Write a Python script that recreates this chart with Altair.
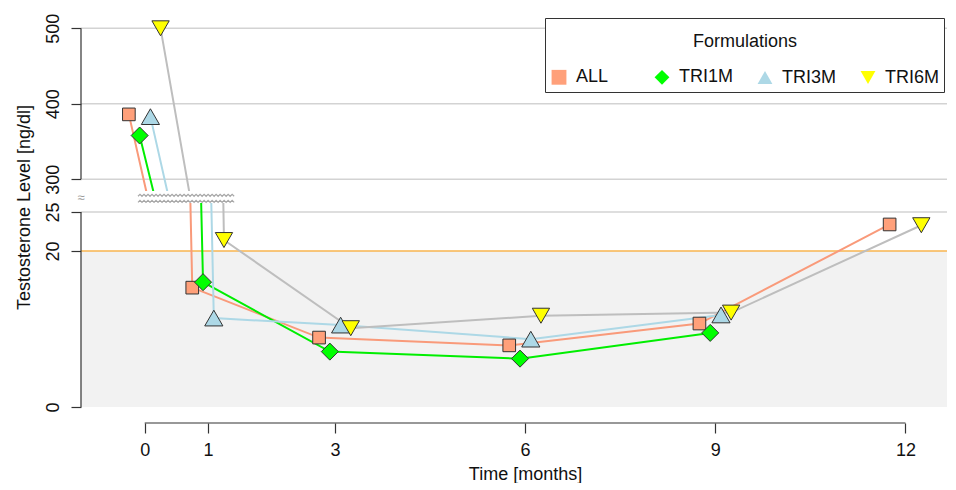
import altair as alt
import pandas as pd
import numpy as np

# ---- data ----
series = ["ALL", "TRI1M", "TRI3M", "TRI6M"]
months = [0, 1, 3, 6, 9, 12]
all_vals = [386, 15.3, 8.9, 7.9, 10.7, 23.4]
tri1m_vals = [358, 16.0, 7.1, 6.2, 9.5, None]
tri3m_vals = [383, 11.4, 10.5, 8.7, 11.8, None]
tri6m_vals = [500, 21.4, 10.1, 11.7, 12.1, 23.3]
dodge = [-0.25, -0.08, 0.09, 0.25]

x_ticks = [0, 1, 3, 6, 9, 12]
upper_ticks = [300, 400, 500]
lower_ticks = [0, 20, 25]
threshold = 20

# ---- styles ----
fill_colors = ["#FFA07A", "#00FF00", "#ADD8E6", "#FFFF00"]
line_colors = ["#F99A7A", "#00EE00", "#ADD8E6", "#BEBEBE"]
shapes = ["square", "diamond", "triangle-up", "triangle-down"]
sizes = [160, 290, 330, 300]
FONT = "Liberation Sans"

rows = []
for s, off, sz, vals in zip(series, dodge, sizes, [all_vals, tri1m_vals, tri3m_vals, tri6m_vals]):
    for m, v in zip(months, vals):
        if v is None:
            continue
        rows.append({"series": s, "line": s + " ", "t": m + off, "value": v, "sz": sz})
df = pd.DataFrame(rows)

X_DOM = [-1.005, 12.655]
UP_DOM = [284.5, 520.3]
LO_DOM = [-2.05, 26.15]
W = 866
H_UP = 178
H_LO = 220

xs = alt.Scale(domain=X_DOM, nice=False, zero=False)
ys_up = alt.Scale(domain=UP_DOM, nice=False, zero=False)
ys_lo = alt.Scale(domain=LO_DOM, nice=False, zero=False)

yaxis_common = dict(
    domain=False, grid=False, tickSize=10, tickColor="#333", tickWidth=1.2,
    labelAngle=270, labelFontSize=18, labelFont=FONT, labelColor="#111",
    labelPadding=9,
)
ax_up = alt.Axis(
    values=upper_ticks, title="Testosterone Level [ng/dl]",
    titleFontSize=18, titleFont=FONT, titleFontWeight="normal", titleColor="#111",
    titleX=-57, titleY=194, titleAngle=270, titleBaseline="middle", titleAlign="center",
    **yaxis_common)
ax_lo = alt.Axis(values=lower_ticks, title="", **yaxis_common)
ax_x = alt.Axis(
    values=x_ticks, format="d", domain=False, grid=False, tickSize=10, tickColor="#333",
    tickWidth=1.2, labelFontSize=18, labelFont=FONT, labelColor="#111", labelPadding=8,
    labelAngle=0, title="Time [months]", titleFontSize=18, titleFont=FONT,
    titleFontWeight="normal", titleColor="#111", titleX=444, titlePadding=6)

legend = alt.Legend(
    title=["", "Formulations"], orient="none", legendX=464, legendY=5,
    direction="horizontal", columns=4, gridAlign="all", columnPadding=22,
    titleAnchor="middle", titleFontSize=18, titleFont=FONT, titleFontWeight="normal",
    titleLineHeight=10, titlePadding=17, titleColor="#111",
    labelFontSize=18, labelFont=FONT, labelColor="#111", labelOffset=8,
    padding=5, strokeColor="#333", fillColor="white", symbolSize=220,
    symbolStrokeColor="#333", symbolStrokeWidth=1, symbolOpacity=1,
)

fill_enc = alt.Fill("series:N", scale=alt.Scale(domain=series, range=fill_colors), legend=legend)
shape_enc = alt.Shape("series:N", scale=alt.Scale(domain=series, range=shapes), legend=legend)
lines_dom = [s + " " for s in series]
stroke_enc = alt.Stroke("line:N", scale=alt.Scale(domain=lines_dom, range=line_colors), legend=None)

base = alt.Chart(df)

# ---------- upper panel ----------
lines_up = base.mark_line(strokeWidth=2, clip=True).encode(
    x=alt.X("t:Q", scale=xs, axis=None),
    y=alt.Y("value:Q", scale=ys_up, axis=ax_up),
    stroke=stroke_enc, detail="series:N",
)
grid_up = alt.Chart(pd.DataFrame({"value": upper_ticks})).mark_rule(
    color="#D3D3D3", strokeWidth=1.5
).encode(y=alt.Y("value:Q", scale=ys_up, axis=ax_up))
axis_up = alt.Chart(pd.DataFrame({"value": [upper_ticks[0]], "b": [upper_ticks[-1]]})).mark_rule(
    color="#333", strokeWidth=1.2
).encode(x=alt.value(0), y=alt.Y("value:Q", scale=ys_up, axis=ax_up), y2="b:Q")
pts_up = base.mark_point(filled=True, opacity=1, stroke="#333", strokeWidth=1, clip=True).encode(
    x=alt.X("t:Q", scale=xs, axis=None),
    y=alt.Y("value:Q", scale=ys_up, axis=ax_up),
    fill=fill_enc, shape=shape_enc, size=alt.Size("sz:Q", scale=None),
    order=alt.Order("series:N"),
)
upper = alt.layer(grid_up, axis_up, lines_up, pts_up).properties(width=W, height=H_UP)

# ---------- lower panel ----------
band = alt.Chart(pd.DataFrame({"t": [X_DOM[0]], "x2": [X_DOM[1]], "value": [0], "y2": [threshold]})).mark_rect(
    color="#F2F2F2"
).encode(
    x=alt.X("t:Q", scale=xs, axis=ax_x), x2="x2:Q",
    y=alt.Y("value:Q", scale=ys_lo, axis=ax_lo), y2="y2:Q",
)
grid_lo = alt.Chart(pd.DataFrame({"value": [25]})).mark_rule(color="#D3D3D3", strokeWidth=1.5).encode(
    y=alt.Y("value:Q", scale=ys_lo, axis=ax_lo))
orange = alt.Chart(pd.DataFrame({"value": [threshold]})).mark_rule(color="#F9B44F", strokeWidth=1.5).encode(
    y=alt.Y("value:Q", scale=ys_lo, axis=ax_lo))

lines_lo = base.mark_line(strokeWidth=2, clip=True).encode(
    x=alt.X("t:Q", scale=xs, axis=ax_x),
    y=alt.Y("value:Q", scale=ys_lo, axis=ax_lo),
    stroke=stroke_enc, detail="series:N",
)
pts_lo = base.mark_point(filled=True, opacity=1, stroke="#333", strokeWidth=1, clip=True).encode(
    x=alt.X("t:Q", scale=xs, axis=ax_x),
    y=alt.Y("value:Q", scale=ys_lo, axis=ax_lo),
    fill=fill_enc, shape=shape_enc, size=alt.Size("sz:Q", scale=None),
    order=alt.Order("series:N"),
)
axis_lo_y = alt.Chart(pd.DataFrame({"value": [lower_ticks[0]], "b": [lower_ticks[-1]]})).mark_rule(
    color="#333", strokeWidth=1.2
).encode(x=alt.value(0), y=alt.Y("value:Q", scale=ys_lo, axis=ax_lo), y2="b:Q")
axis_lo_x = alt.Chart(pd.DataFrame({"t": [x_ticks[0]], "b": [x_ticks[-1]], "value": [LO_DOM[0]]})).mark_rule(
    color="#333", strokeWidth=1.2
).encode(x=alt.X("t:Q", scale=xs, axis=ax_x), x2="b:Q", y=alt.Y("value:Q", scale=ys_lo, axis=ax_lo))

# break marker (decorative zigzag between the panels)
zz_x = np.arange(-0.106, 1.424, 0.0316)
zz_rows = []
for k, yb in enumerate([27.14, 26.37]):
    for i, xv in enumerate(zz_x):
        zz_rows.append({"k": k, "i": i, "t": xv, "value": yb + (0.13 if i % 2 else -0.13)})
zigzag = alt.Chart(pd.DataFrame(zz_rows)).mark_line(color="#A8A8A8", strokeWidth=1.2, clip=False).encode(
    x=alt.X("t:Q", scale=xs, axis=ax_x), y=alt.Y("value:Q", scale=ys_lo, axis=ax_lo),
    detail="k:N", order="i:Q")
brk = alt.Chart(pd.DataFrame({"t": [X_DOM[0]], "value": [26.8], "s": ["≈"]})).mark_text(
    color="#999", fontSize=13, clip=False
).encode(x=alt.X("t:Q", scale=xs, axis=ax_x), y=alt.Y("value:Q", scale=ys_lo, axis=ax_lo), text="s:N")

lower = alt.layer(band, grid_lo, orange, lines_lo, pts_lo, axis_lo_y, axis_lo_x, zigzag, brk).properties(
    width=W, height=H_LO)

chart = alt.vconcat(upper, lower, spacing=12, bounds="flush").properties(
    padding={"left": 7, "top": 5, "right": 0, "bottom": 0}
).configure(font=FONT).configure_view(stroke=None)

chart.save("out.html", embed_options={"renderer": "svg", "actions": False})
